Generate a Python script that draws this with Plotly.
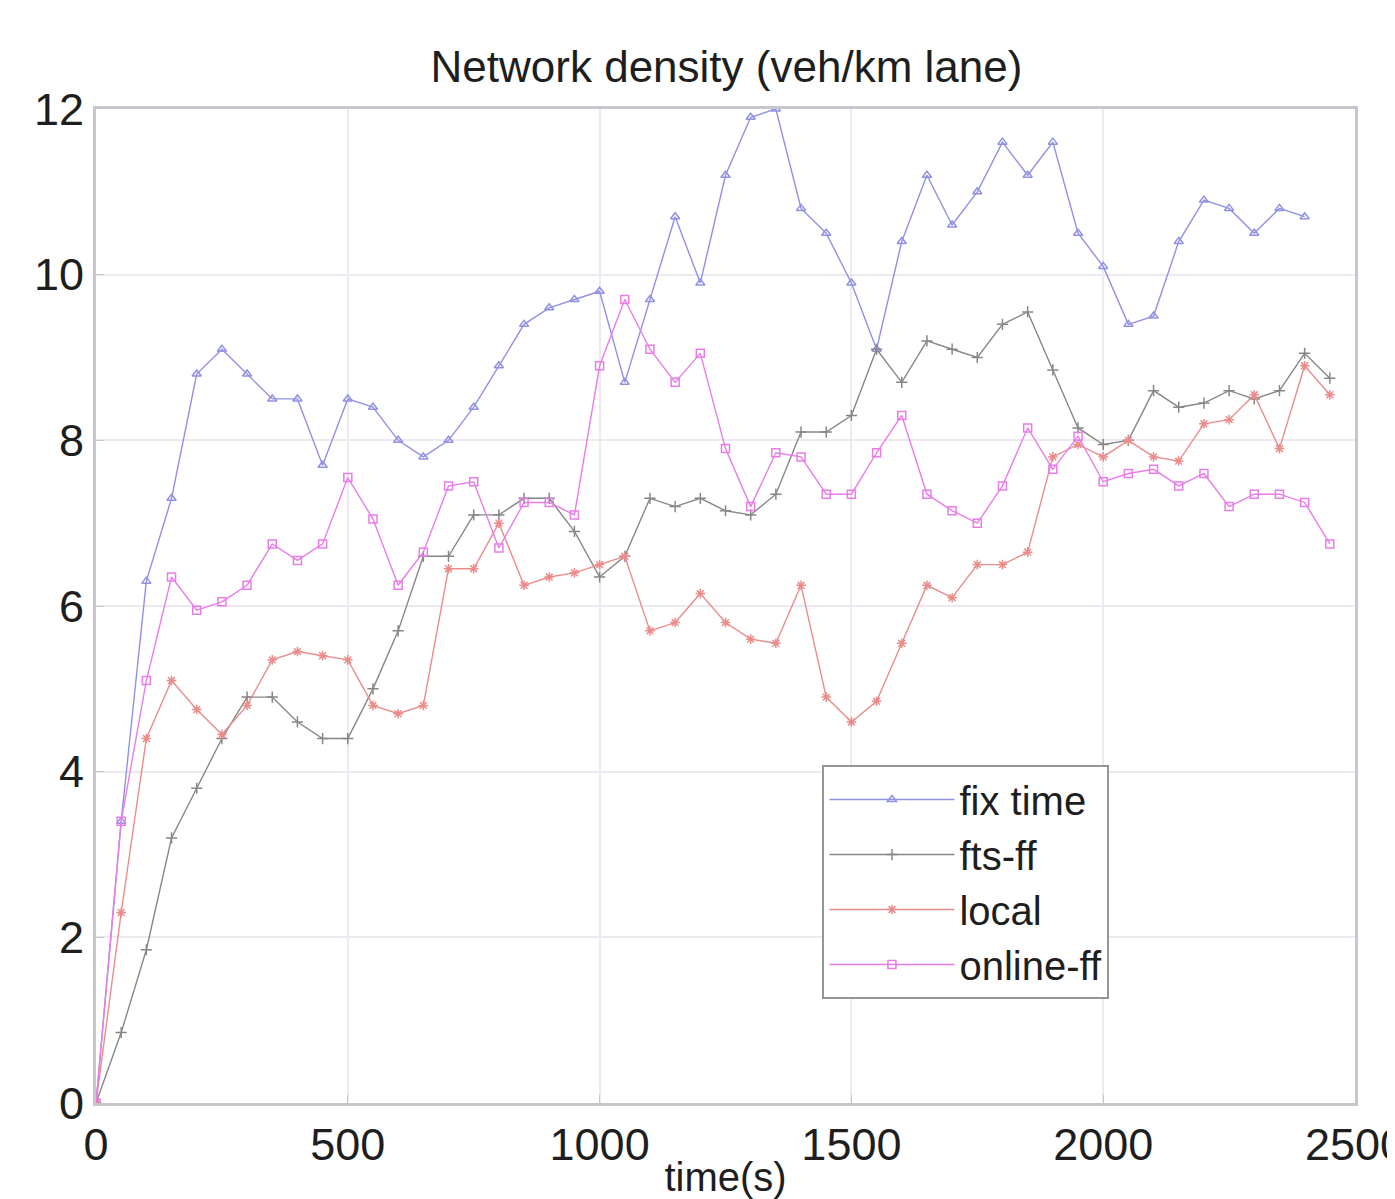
import plotly.graph_objects as go

t_fix = list(range(0, 2401, 50))
t_other = list(range(0, 2451, 50))

fix_time = [0, 3.4, 6.3, 7.3, 8.8, 9.1, 8.8, 8.5, 8.5, 7.7,
            8.5, 8.4, 8.0, 7.8, 8.0, 8.4, 8.9, 9.4, 9.6, 9.7,
            9.8, 8.7, 9.7, 10.7, 9.9, 11.2, 11.9, 12.0, 10.8, 10.5,
            9.9, 9.1, 10.4, 11.2, 10.6, 11.0, 11.6, 11.2, 11.6, 10.5,
            10.1, 9.4, 9.5, 10.4, 10.9, 10.8, 10.5, 10.8, 10.7]

fts_ff = [0, 0.85, 1.85, 3.2, 3.8, 4.4, 4.9, 4.9, 4.6, 4.4,
          4.4, 5.0, 5.7, 6.6, 6.6, 7.1, 7.1, 7.3, 7.3, 6.9,
          6.35, 6.6, 7.3, 7.2, 7.3, 7.15, 7.1, 7.35, 8.1, 8.1,
          8.3, 9.1, 8.7, 9.2, 9.1, 9.0, 9.4, 9.55, 8.85, 8.15,
          7.95, 8.0, 8.6, 8.4, 8.45, 8.6, 8.5, 8.6, 9.05, 8.75]

local = [0, 2.3, 4.4, 5.1, 4.75, 4.45, 4.8, 5.35, 5.45, 5.4,
         5.35, 4.8, 4.7, 4.8, 6.45, 6.45, 7.0, 6.25, 6.35, 6.4,
         6.5, 6.6, 5.7, 5.8, 6.15, 5.8, 5.6, 5.55, 6.25, 4.9,
         4.6, 4.85, 5.55, 6.25, 6.1, 6.5, 6.5, 6.65, 7.8, 7.95,
         7.8, 8.0, 7.8, 7.75, 8.2, 8.25, 8.55, 7.9, 8.9, 8.55]

online_ff = [0, 3.4, 5.1, 6.35, 5.95, 6.05, 6.25, 6.75, 6.55, 6.75,
             7.55, 7.05, 6.25, 6.65, 7.45, 7.5, 6.7, 7.25, 7.25, 7.1,
             8.9, 9.7, 9.1, 8.7, 9.05, 7.9, 7.2, 7.85, 7.8, 7.35,
             7.35, 7.85, 8.3, 7.35, 7.15, 7.0, 7.45, 8.15, 7.65, 8.05,
             7.5, 7.6, 7.65, 7.45, 7.6, 7.2, 7.35, 7.35, 7.25, 6.75]

series_names = ["fix time", "fts-ff", "local", "online-ff"]
x_ticks = [0, 500, 1000, 1500, 2000, 2500]
y_ticks = [0, 2, 4, 6, 8, 10, 12]

FONT = "Liberation Sans, Arial, sans-serif"
TXT = "rgb(30,30,30)"

fig = go.Figure()
specs = [
    (t_fix, fix_time, "rgb(145,145,228)", "triangle-up-open"),
    (t_other, fts_ff, "rgb(135,135,135)", "cross-thin-open"),
    (t_other, local, "rgb(234,140,140)", "asterisk-open"),
    (t_other, online_ff, "rgb(232,125,232)", "square-open"),
]
for name, (xs, ys, col, sym) in zip(series_names, specs):
    fig.add_trace(go.Scatter(
        x=xs, y=ys, name=name, mode="lines+markers",
        line=dict(color=col, width=1.4),
        marker=dict(symbol=sym, size=8, color=col, line=dict(color=col, width=1.5)),
    ))

axis_common = dict(
    showline=True, linecolor="rgb(200,198,204)", linewidth=3, mirror=True,
    showgrid=True, gridcolor="rgb(238,232,240)", gridwidth=2,
    ticks="inside", ticklen=8, tickcolor="rgb(200,198,204)",
    zeroline=False, automargin=False, ticklabeloverflow="allow",
    tickfont=dict(family=FONT, size=45, color=TXT),
)

fig.update_layout(
    width=1387, height=1191,
    paper_bgcolor="white", plot_bgcolor="white",
    margin=dict(l=88, r=40, t=101, b=96),
    title=dict(text="Network density (veh/km lane)", x=0.518, xanchor="center",
               y=0.951, yanchor="middle",
               font=dict(family=FONT, size=44, color=TXT)),
    xaxis=dict(range=[0, 2500], tickvals=x_ticks,
               title=dict(text="time(s)", font=dict(family=FONT, size=40, color=TXT),
                          standoff=0),
               **axis_common),
    yaxis=dict(range=[0, 12], tickvals=y_ticks, **axis_common),
    legend=dict(x=0.577, y=0.34, xanchor="left", yanchor="top",
                bgcolor="white", bordercolor="rgb(150,150,150)", borderwidth=2,
                font=dict(family=FONT, size=40, color=TXT),
                itemwidth=125, tracegroupgap=0),
    showlegend=True,
)

fig.write_html("out.html")
